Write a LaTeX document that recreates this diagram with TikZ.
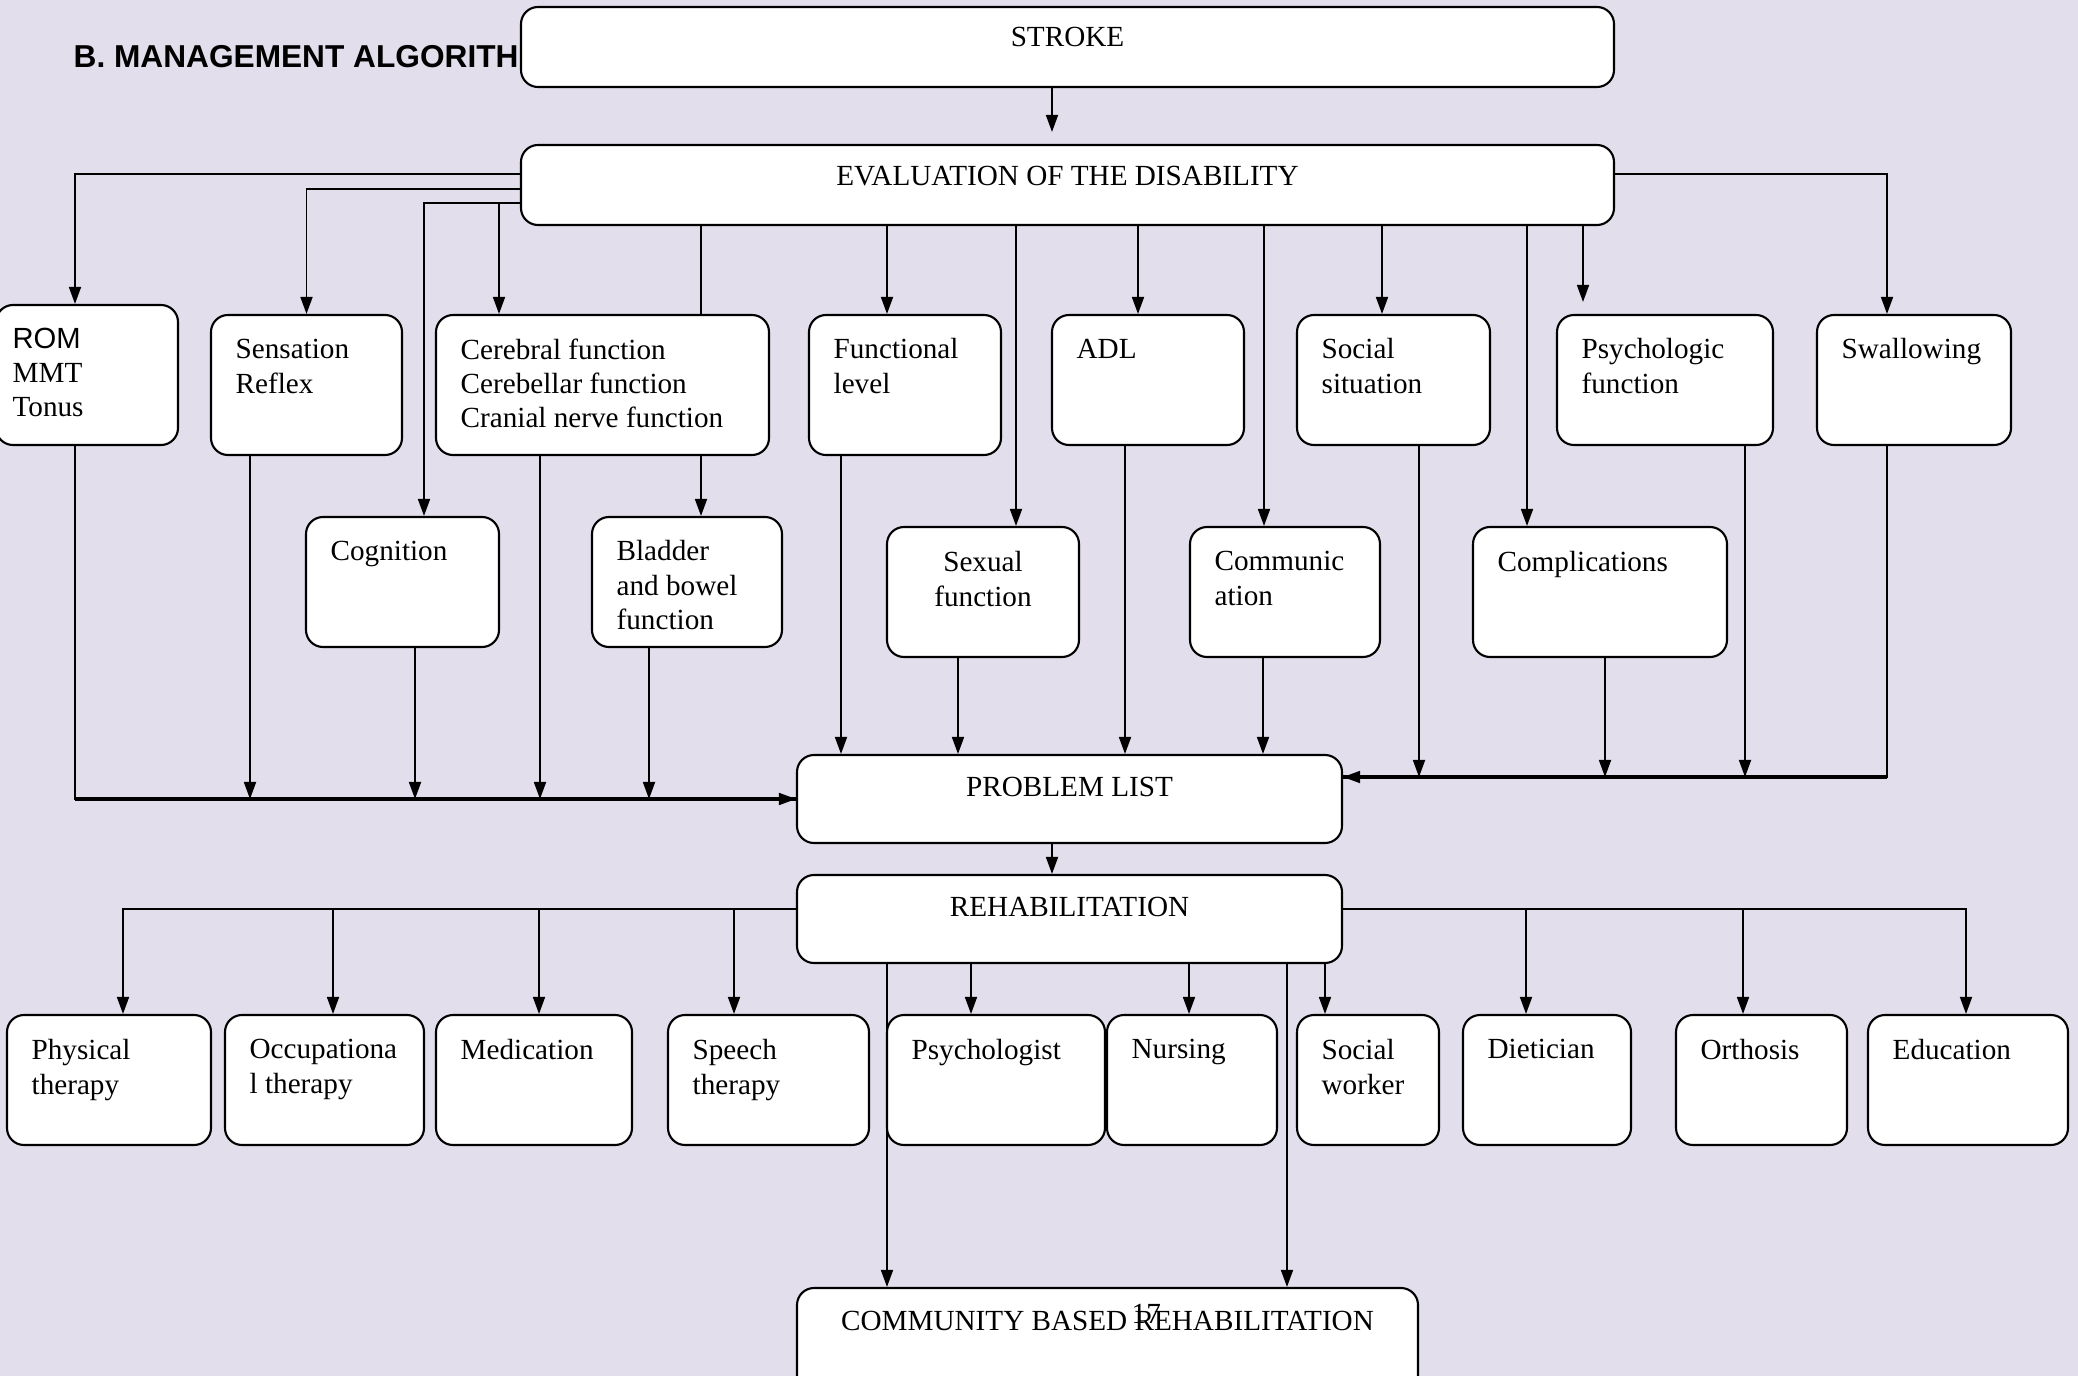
\documentclass[tikz,border=0pt]{standalone}
\usepackage{fontspec}
\setmainfont{Liberation Serif}
\setsansfont{Liberation Sans}
\usetikzlibrary{arrows.meta,fit}
\definecolor{lavender}{RGB}{226,222,236}

\begin{document}
\begin{tikzpicture}[x=0.01cm, y=-0.01cm,
  box/.style={draw, fill=white, rounded corners=0.17cm, line width=0.6pt, inner sep=0pt},
  lbl/.style={anchor=north west, align=left, inner sep=0pt, font=\fontsize{8.3}{9.7}\selectfont},
  mid/.style={anchor=north, align=center, inner sep=0pt, font=\fontsize{8.3}{9.7}\selectfont},
  link/.style={line width=0.5pt},
  arr/.style={link, -{Triangle[length=0.17cm, width=0.12cm]}},
  bus/.style={line width=0.9pt}]
\fill[lavender] (0,0) rectangle (2078,1376);
\clip (0,0) rectangle (2078,1376);

\node[anchor=base west, inner sep=0pt, font=\sffamily\bfseries\fontsize{9}{11}\selectfont] (title) at (73,68) {B. MANAGEMENT ALGORITH};

% top
\node[box, fit={(521,7) (1614,87)}] (stroke) {};
\node[mid] (stroke-t) at ([shift={(0,21)}]stroke.north) {STROKE};
\node[box, fit={(521,145) (1614,225)}] (eval) {};
\node[mid] (eval-t) at ([shift={(0,22)}]eval.north) {EVALUATION OF THE DISABILITY};

% evaluation items
\node[box, fit={(-4,305) (178,445)}] (rom) {};
\node[lbl] (rom-t) at ([shift={(17,23)}]rom.north west) {{\sffamily ROM}\\MMT\\Tonus};
\node[box, fit={(211,315) (402,455)}] (sens) {};
\node[lbl] (sens-t) at ([shift={(25,25)}]sens.north west) {Sensation\\Reflex};
\node[box, fit={(436,315) (769,455)}] (cereb) {};
\node[lbl] (cereb-t) at ([shift={(25,24)}]cereb.north west) {Cerebral function\\Cerebellar function\\Cranial nerve function};
\node[box, fit={(809,315) (1001,455)}] (func) {};
\node[lbl] (func-t) at ([shift={(25,24)}]func.north west) {Functional\\level};
\node[box, fit={(1052,315) (1244,445)}] (adl) {};
\node[lbl] (adl-t) at ([shift={(25,25)}]adl.north west) {ADL};
\node[box, fit={(1297,315) (1490,445)}] (soc) {};
\node[lbl] (soc-t) at ([shift={(25,24)}]soc.north west) {Social\\situation};
\node[box, fit={(1557,315) (1773,445)}] (psych) {};
\node[lbl] (psych-t) at ([shift={(25,24)}]psych.north west) {Psychologic\\function};
\node[box, fit={(1817,315) (2011,445)}] (swal) {};
\node[lbl] (swal-t) at ([shift={(25,24)}]swal.north west) {Swallowing};

\node[box, fit={(306,517) (499,647)}] (cog) {};
\node[lbl] (cog-t) at ([shift={(25,25)}]cog.north west) {Cognition};
\node[box, fit={(592,517) (782,647)}] (blad) {};
\node[lbl] (blad-t) at ([shift={(25,24)}]blad.north west) {Bladder\\and bowel\\function};
\node[box, fit={(887,527) (1079,657)}] (sex) {};
\node[mid] (sex-t) at ([shift={(0,25)}]sex.north) {Sexual\\function};
\node[box, fit={(1190,527) (1380,657)}] (comm) {};
\node[lbl] (comm-t) at ([shift={(25,25)}]comm.north west) {Communic\\ation};
\node[box, fit={(1473,527) (1727,657)}] (compl) {};
\node[lbl] (compl-t) at ([shift={(25,25)}]compl.north west) {Complications};

% problem list and rehabilitation
\node[box, fit={(797,755) (1342,843)}] (prob) {};
\node[mid] (prob-t) at ([shift={(0,23)}]prob.north) {PROBLEM LIST};
\coordinate (rbus) at (prob.east |- 0,777);
\node[box, fit={(797,875) (1342,963)}] (rehab) {};
\node[mid] (rehab-t) at ([shift={(0,23)}]rehab.north) {REHABILITATION};

\node[box, fit={(7,1015) (211,1145)}] (phys) {};
\node[lbl] (phys-t) at ([shift={(25,25)}]phys.north west) {Physical\\therapy};
\node[box, fit={(225,1015) (424,1145)}] (occ) {};
\node[lbl] (occ-t) at ([shift={(25,25)}]occ.north west) {Occupationa\\l therapy};
\node[box, fit={(436,1015) (632,1145)}] (med) {};
\node[lbl] (med-t) at ([shift={(25,25)}]med.north west) {Medication};
\node[box, fit={(668,1015) (869,1145)}] (speech) {};
\node[lbl] (speech-t) at ([shift={(25,25)}]speech.north west) {Speech\\therapy};
\node[box, fit={(887,1015) (1105,1145)}] (psy) {};
\node[lbl] (psy-t) at ([shift={(25,25)}]psy.north west) {Psychologist};
\node[box, fit={(1107,1015) (1277,1145)}] (nurs) {};
\node[lbl] (nurs-t) at ([shift={(25,25)}]nurs.north west) {Nursing};
\node[box, fit={(1297,1015) (1439,1145)}] (sw) {};
\node[lbl] (sw-t) at ([shift={(25,25)}]sw.north west) {Social\\worker};
\node[box, fit={(1463,1015) (1631,1145)}] (diet) {};
\node[lbl] (diet-t) at ([shift={(25,25)}]diet.north west) {Dietician};
\node[box, fit={(1676,1015) (1847,1145)}] (orth) {};
\node[lbl] (orth-t) at ([shift={(25,25)}]orth.north west) {Orthosis};
\node[box, fit={(1868,1015) (2068,1145)}] (educ) {};
\node[lbl] (educ-t) at ([shift={(25,25)}]educ.north west) {Education};

\node[box, fit={(797,1288) (1418,1420)}] (cbr) {};
\node[mid] (cbr-t) at ([shift={(0,24)}]cbr.north) {COMMUNITY BASED REHABILITATION};
\node[anchor=base west, inner sep=0pt, font=\fontsize{8.3}{9.7}\selectfont] (pnum) at (1131,1323) {17};

% evaluation arrows
\draw[arr, shorten >=0.12cm] (stroke.south -| 1052,0) -- (eval.north -| 1052,0);
\draw[arr] (eval.west |- 0,174) -| (rom.north -| 75,0);
\draw[arr] (eval.west |- 0,189) -| (sens.north);
\draw[arr] (eval.west |- 0,203) -| (cog.north -| 424,0);
\draw[arr] (eval.west |- 0,203) -| (cereb.north -| 499,0);
\draw[link] (eval.south -| 701,0) -- (cereb.north -| 701,0);
\draw[arr] (cereb.south -| 701,0) -- (blad.north -| 701,0);
\draw[arr] (eval.south -| 887,0) -- (func.north -| 887,0);
\draw[arr] (eval.south -| 1016,0) -- (sex.north -| 1016,0);
\draw[arr] (eval.south -| 1138,0) -- (adl.north -| 1138,0);
\draw[arr] (eval.south -| 1264,0) -- (comm.north -| 1264,0);
\draw[arr] (eval.south -| 1382,0) -- (soc.north -| 1382,0);
\draw[arr] (eval.south -| 1527,0) -- (compl.north -| 1527,0);
\draw[arr, shorten >=0.12cm] (eval.south -| 1583,0) -- (psych.north -| 1583,0);
\draw[arr] (eval.east |- 0,174) -| (swal.north -| 1887,0);

% into the problem list
\draw[arr] (rom.south -| 75,0) |- (prob.west);
\draw[bus] (prob.west -| 75,0) -- (prob.west);
\draw[arr] (sens.south -| 250,0) -- (prob.west -| 250,0);
\draw[arr] (cog.south -| 415,0) -- (prob.west -| 415,0);
\draw[arr] (cereb.south -| 540,0) -- (prob.west -| 540,0);
\draw[arr] (blad.south -| 649,0) -- (prob.west -| 649,0);
\draw[arr] (func.south -| 841,0) -- (prob.north -| 841,0);
\draw[arr] (sex.south -| 958,0) -- (prob.north -| 958,0);
\draw[arr] (adl.south -| 1125,0) -- (prob.north -| 1125,0);
\draw[arr] (comm.south -| 1263,0) -- (prob.north -| 1263,0);
\draw[arr] (swal.south -| 1887,0) |- (rbus);
\draw[bus] (rbus -| 1887,0) -- (rbus);
\draw[arr] (soc.south -| 1419,0) -- (rbus -| 1419,0);
\draw[arr] (compl.south -| 1605,0) -- (rbus -| 1605,0);
\draw[arr] (psych.south -| 1745,0) -- (rbus -| 1745,0);

% rehabilitation arrows
\draw[arr] (prob.south -| 1052,0) -- (rehab.north -| 1052,0);
\draw[arr] (rehab.west |- 0,909) -| (phys.north -| 123,0);
\draw[arr] (rehab.west |- 0,909) -| (occ.north -| 333,0);
\draw[arr] (rehab.west |- 0,909) -| (med.north -| 539,0);
\draw[arr] (rehab.west |- 0,909) -| (speech.north -| 734,0);
\draw[arr] (rehab.east |- 0,909) -| (diet.north -| 1526,0);
\draw[arr] (rehab.east |- 0,909) -| (orth.north -| 1743,0);
\draw[arr] (rehab.east |- 0,909) -| (educ.north -| 1966,0);
\draw[arr] (rehab.south -| 971,0) -- (psy.north -| 971,0);
\draw[arr] (rehab.south -| 1189,0) -- (nurs.north -| 1189,0);
\draw[arr] (rehab.south -| 1325,0) -- (sw.north -| 1325,0);
\draw[arr] (rehab.south -| 887,0) -- (cbr.north -| 887,0);
\draw[arr] (rehab.south -| 1287,0) -- (cbr.north -| 1287,0);
\end{tikzpicture}
\end{document}
